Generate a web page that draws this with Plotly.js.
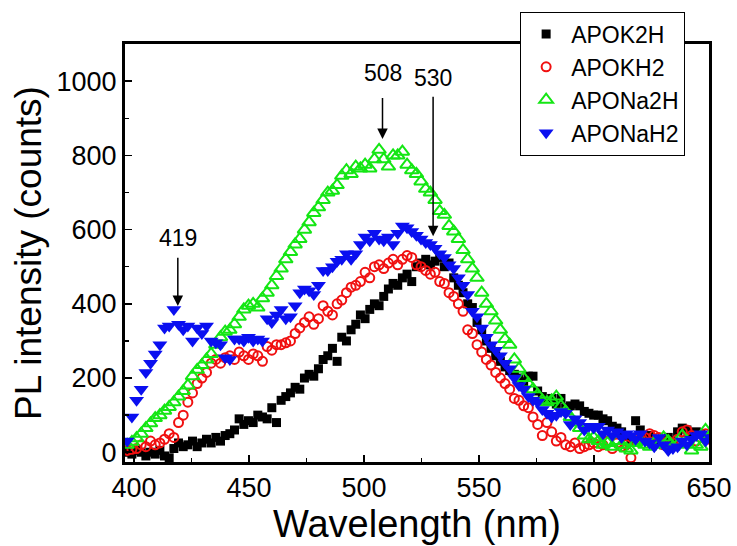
<!DOCTYPE html>
<html>
<head>
<meta charset="utf-8">
<script src="https://cdn.plot.ly/plotly-3.0.1.min.js"></script>
<style>html,body{margin:0;padding:0;background:#fff;}#chart{width:737px;height:546px;}</style>
</head>
<body>
<div id="chart"></div>
<script>
// Wavelength grid (nm): 126 evenly spaced samples, shared by all series
const wavelength = [];
for (let i = 0; i < 126; i++) wavelength.push(+(397 + i * 2.028).toFixed(2));

const seriesNames = ["APOK2H", "APOKH2", "APONa2H", "APONaH2"];

const apok2h = [
  0, -5, 5, 0, -10, 0, -5, 5, -10, -15,
  10, 25, 15, 20, 30, 15, 25, 35, 25, 40,
  30, 45, 50, 60, 90, 75, 85, 80, 100, 95,
  90, 120, 80, 140, 150, 160, 175, 170, 200, 210,
  205, 225, 250, 260, 280, 245, 310, 300, 330, 345,
  370, 360, 385, 400, 395, 420, 440, 455, 450, 470,
  480, 460, 500, 510, 520, 505, 515, 525, 500, 510,
  470, 450, 430, 400, 390, 350, 330, 300, 280, 260,
  245, 230, 220, 210, 200, 190, 205, 205, 165, 150,
  140, 145, 130, 145, 120, 125, 130, 125, 110, 105,
  100, 100, 90, 85, 70, 65, 55, 45, 35, 85,
  60, 40, 45, 30, 25, 20, 40, 30, 55, 65,
  60, 45, 55, 50, 40, 35
];

const apokh2 = [
  5, 8, 10, 20, 15, 30, 20, 25, 35, 50,
  40, 80, 100, 135, 160, 185, 200, 215, 240, 250,
  240, 255, 260, 250, 270, 260, 250, 265, 260, 245,
  285, 275, 290, 290, 295, 300, 320, 335, 350, 365,
  345, 360, 395, 380, 370, 400, 410, 430, 445, 450,
  460, 485, 470, 500, 505, 495, 510, 520, 505, 520,
  530, 525, 505, 500, 490, 480, 485, 460, 455, 430,
  420, 400, 380, 330, 320, 290, 270, 250, 235, 215,
  200, 185, 170, 145, 140, 125, 120, 95, 75, 45,
  80, 55, 30, 40, 20, 15, 25, 10, 15, 20,
  25, 15, 20, 30, 10, 25, 15, 20, -15, 30,
  35, 40, 50, 45, 40, 20, 30, 25, 35, 55,
  60, 45, 30, 40, 50, 35
];

const apona2h = [
  20, 28, 38, 50, 65, 78, 92, 100, 112, 122,
  135, 150, 165, 180, 205, 222, 235, 250, 265, 290,
  310, 325, 330, 345, 365, 385, 395, 400, 390, 415,
  430, 450, 475, 495, 520, 540, 560, 575, 600, 620,
  645, 660, 680, 700, 705, 720, 745, 760, 750, 770,
  765, 775, 765, 790, 815, 790, 770, 800, 800, 810,
  775, 760, 750, 730, 710, 700, 680, 650, 640, 610,
  595, 575, 545, 520, 495, 470, 430, 400, 380, 355,
  330, 305, 290, 250, 225, 200, 185, 170, 155, 140,
  135, 140, 150, 125, 110, 95, 80, 65, 45, 35,
  40, 30, 20, 25, 15, 30, 20, 10, 5, 25,
  30, 20, 15, 25, 20, 40, 30, 15, 20, 45,
  30, 5, 20, 15, 60, 45
];

const aponah2 = [
  30, 95, 140, 170, 215, 240, 265, 290, 335, 340,
  385, 345, 330, 340, 300, 335, 320, 340, 300, 295,
  290, 255, 250, 305, 305, 300, 310, 300, 305, 300,
  360, 350, 370, 385, 360, 365, 395, 430, 440, 435,
  425, 450, 490, 490, 500, 515, 520, 535, 520, 535,
  560, 580, 570, 590, 575, 570, 580, 560, 590, 610,
  605, 595, 585, 575, 565, 560, 550, 535, 525, 505,
  495, 470, 450, 425, 380, 365, 335, 310, 290, 275,
  260, 240, 225, 200, 180, 170, 150, 140, 135, 115,
  105, 95, 100, 110, 105, 75, 90, 80, 60, 70,
  65, 70, 50, 60, 45, 55, 40, 50, 45, 35,
  50, 30, 25, 15, 40, 20, 5, 10, 15, 30,
  20, 35, 45, 50, 30, 40
];

// Peak annotations: label, wavelength, arrow tip value, label centre value, gap below label
const peakLabels = ["419", "508", "530"];
const peakX = [419, 508, 530];
const peakTip = [394, 844, 582];
const peakText = [577, 1021, 1008];
const peakGap = [5, 10, 4];

const fontFam = '"Liberation Sans", Arial, Helvetica, sans-serif';

const traces = [
  {x: wavelength, y: apok2h, name: seriesNames[0], mode: 'markers', type: 'scatter',
   marker: {symbol: 'square', size: 9, color: '#000000'}},
  {x: wavelength, y: apokh2, name: seriesNames[1], mode: 'markers', type: 'scatter',
   marker: {symbol: 'circle-open', size: 9, color: '#f01010', line: {width: 2, color: '#f01010'}}},
  {x: wavelength, y: apona2h, name: seriesNames[2], mode: 'markers', type: 'scatter',
   marker: {symbol: 'triangle-up-open', size: 12, color: '#14e614', line: {width: 2, color: '#14e614'}}},
  {x: wavelength, y: aponah2, name: seriesNames[3], mode: 'markers', type: 'scatter',
   marker: {symbol: 'triangle-down', size: 13, color: '#0a0ff0'}}
];

const annotations = peakLabels.map((t, i) => ({
  x: peakX[i], y: peakTip[i], xref: 'x', yref: 'y',
  axref: 'x', ayref: 'y', ax: peakX[i], ay: peakText[i],
  text: t, showarrow: true, arrowhead: 2, arrowsize: 1.4, arrowwidth: 1.5,
  arrowcolor: '#000', standoff: 0, startstandoff: peakGap[i],
  font: {family: fontFam, size: 23, color: '#000'}
}));

const layout = {
  width: 737, height: 546,
  margin: {l: 124, r: 27, t: 35, b: 83},
  paper_bgcolor: '#ffffff', plot_bgcolor: '#ffffff',
  showlegend: true,
  legend: {x: 0.676, y: 1.075, xanchor: 'left', yanchor: 'top',
    bgcolor: '#ffffff', bordercolor: '#000000', borderwidth: 1,
    font: {family: fontFam, size: 23, color: '#000'}, tracegroupgap: 0, itemwidth: 40},
  xaxis: {
    range: [395.6, 650.4], showgrid: false, zeroline: false,
    showline: true, linecolor: '#000', linewidth: 2, mirror: true,
    ticks: 'inside', ticklen: 8, tickwidth: 1.5, tickcolor: '#000',
    tickvals: [400, 450, 500, 550, 600, 650],
    minor: {tickvals: [425, 475, 525, 575, 625], ticks: 'inside', ticklen: 5, tickwidth: 1.5, tickcolor: '#000'},
    tickfont: {family: fontFam, size: 27, color: '#000'},
    title: {text: 'Wavelength (nm)', font: {family: fontFam, size: 38, color: '#000'}, standoff: 6}
  },
  yaxis: {
    range: [-29, 1103], showgrid: false, zeroline: false,
    showline: true, linecolor: '#000', linewidth: 2, mirror: true,
    ticks: 'inside', ticklen: 8, tickwidth: 1.5, tickcolor: '#000',
    tickvals: [0, 200, 400, 600, 800, 1000],
    minor: {tickvals: [100, 300, 500, 700, 900], ticks: 'inside', ticklen: 5, tickwidth: 1.5, tickcolor: '#000'},
    tickfont: {family: fontFam, size: 27, color: '#000'},
    title: {text: 'PL intensity (counts)', font: {family: fontFam, size: 37, color: '#000'}, standoff: 4}
  },
  shapes: [{type: 'rect', xref: 'paper', yref: 'paper', x0: 0, x1: 1, y0: 0, y1: 1,
            line: {color: '#000', width: 2}, fillcolor: 'rgba(0,0,0,0)', layer: 'above'}],
  annotations: annotations
};

Plotly.newPlot('chart', traces, layout, {displayModeBar: false, staticPlot: true});
</script>
</body>
</html>
